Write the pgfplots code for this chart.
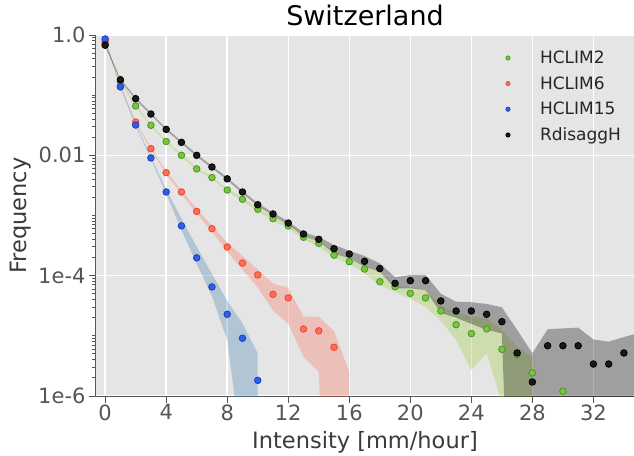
\documentclass[border=0pt]{standalone}
\usepackage{fontspec}
\setmainfont{DejaVu Sans}
\usepackage{pgfplots}
\pgfplotsset{compat=1.18}
\definecolor{bg}{HTML}{E5E5E5}
\definecolor{axgray}{HTML}{555555}
\definecolor{gfill}{RGB}{122,196,62}
\definecolor{gedge}{RGB}{70,150,40}
\definecolor{rfill}{RGB}{255,110,85}
\definecolor{redge}{RGB}{230,70,50}
\definecolor{bfill}{RGB}{45,95,230}
\definecolor{bedge}{RGB}{30,60,190}
\definecolor{gband}{RGB}{154,205,50}
\definecolor{rband}{RGB}{255,99,71}
\definecolor{bband}{RGB}{70,130,180}
\pgfplotsset{myleg/.style={legend image code/.code={\path[draw=none,fill=none] (0pt,-3pt) (41pt,3pt); \draw[##1] plot coordinates {(11pt,0pt)};}}}
\begin{document}
\begin{tikzpicture}
\begin{axis}[
  scale only axis, width=538pt, height=361pt,
  ymode=log, xmin=-0.6, xmax=34.66, ymin=1e-6, ymax=1,
  axis background/.style={fill=bg},
  axis lines*=left, axis line style={-, axgray, line width=1pt},
  grid=major, major grid style={white, line width=1.5pt},
  tick align=outside, major tick length=7pt, minor tick length=4pt,
  tick style={axgray, line width=1pt},
  xtick={0,4,8,12,16,20,24,28,32},
  xticklabels={0,4,8,12,16,20,24,28,32},
  ytick={1,1e-2,1e-4,1e-6},
  yticklabels={1.0,0.01,1e-4,1e-6},
  minor ytick={2e-6,3e-6,4e-6,5e-6,6e-6,7e-6,8e-6,9e-6,1e-5,2e-5,3e-5,4e-5,5e-5,6e-5,7e-5,8e-5,9e-5,
    2e-4,3e-4,4e-4,5e-4,6e-4,7e-4,8e-4,9e-4,1e-3,2e-3,3e-3,4e-3,5e-3,6e-3,7e-3,8e-3,9e-3,
    2e-2,3e-2,4e-2,5e-2,6e-2,7e-2,8e-2,9e-2,1e-1,2e-1,3e-1,4e-1,5e-1,6e-1,7e-1,8e-1,9e-1},
  ticklabel style={font=\fontsize{21}{24}\selectfont, text=axgray},
  xticklabel style={yshift=2pt},
  xlabel={Intensity [mm/hour]},
  ylabel={Frequency},
  label style={font=\fontsize{22.5}{26}\selectfont, text=axgray!70!black},
  xlabel style={at={(axis description cs:0.5,0)}, anchor=base, yshift=-52pt},
  ylabel style={at={(axis description cs:-0.1301,0.5)}, anchor=base, rotate=0},
  title={Switzerland},
  title style={font=\fontsize{27}{30}\selectfont, at={(axis description cs:0.5,1)}, anchor=base, yshift=4pt},
  legend style={draw=none, fill=none, at={(axis description cs:0.745,0.962)}, anchor=north west,
    font=\fontsize{17}{20}\selectfont, row sep=7.5pt, inner sep=0pt, text=black!85},
  legend cell align=left,
]
% bands
\addplot[draw=none, fill=bband, fill opacity=0.32, forget plot] coordinates {
(0,0.891)(1,0.143)(2,0.0331)(3,0.00944)(4,0.00269)(5,0.000891)(6,0.000302)(7,0.000107)(8,3.80e-5)(9,1.62e-5)(10,5.13e-6)
(10,1e-7)(9,1e-7)(8,8.51e-6)(7,4.57e-5)(6,0.000158)(5,0.000575)(4,0.00229)(3,0.00861)(2,0.0305)(1,0.132)(0,0.813)} -- cycle;
\addplot[draw=none, fill=rband, fill opacity=0.28, forget plot] coordinates {
(0,0.832)(1,0.146)(2,0.0372)(3,0.0135)(4,0.00543)(5,0.00263)(6,0.00129)(7,0.000676)(8,0.000355)(9,0.000214)(10,0.000126)(11,7.41e-5)(12,6.31e-5)(13,2.09e-5)(14,2.09e-5)(15,1.20e-5)(16,2.51e-6)
(16,1e-12)(15,1e-12)(14,2.51e-6)(13,4.47e-6)(12,1.58e-5)(11,2.63e-5)(10,6.31e-5)(9,0.000126)(8,0.000251)(7,0.000537)(6,0.00107)(5,0.00229)(4,0.00490)(3,0.0123)(2,0.0343)(1,0.135)(0,0.759)} -- cycle;
\addplot[draw=none, fill=gband, fill opacity=0.3, forget plot] coordinates {
(0,0.776)(1,0.178)(2,0.0692)(3,0.0331)(4,0.0178)(5,0.01047)(6,0.00624)(7,0.00447)(8,0.00282)(9,0.00200)(10,0.00135)(11,0.000955)(12,0.000724)(13,0.000468)(14,0.000372)(15,0.000251)(16,0.000195)(17,0.000148)(18,0.000117)(19,6.92e-5)(20,6.46e-5)(21,5.75e-5)(22,3.16e-5)(23,2.40e-5)(24,2.09e-5)(25,1.95e-5)(26,1.26e-5)(27,6.61e-6)(28,4.47e-6)
(28,1e-12)(27,1e-12)(26,7.94e-7)(25,5.13e-6)(24,2.69e-6)(23,8.51e-6)(22,1.78e-5)(21,3.02e-5)(20,4.17e-5)(19,5.37e-5)(18,7.00e-5)(17,0.000110)(16,0.000158)(15,0.000200)(14,0.000302)(13,0.000398)(12,0.000617)(11,0.000813)(10,0.00117)(9,0.00174)(8,0.00251)(7,0.00407)(6,0.00569)(5,0.00955)(4,0.0162)(3,0.0302)(2,0.0631)(1,0.162)(0,0.708)} -- cycle;
\addplot[draw=none, fill=black, fill opacity=0.3, forget plot] coordinates {
(0,0.708)(1,0.188)(2,0.0912)(3,0.0507)(4,0.0282)(5,0.0172)(6,0.01047)(7,0.00668)(8,0.00427)(9,0.00257)(10,0.00160)(11,0.00112)(12,0.000794)(13,0.000525)(14,0.000437)(15,0.000324)(16,0.000260)(17,0.000212)(18,0.000160)(19,9.40e-5)(20,0.000103)(21,0.000103)(22,5.01e-5)(23,3.70e-5)(24,3.63e-5)(25,3.39e-5)(26,2.98e-5)(27,1.26e-5)(28,5.13e-6)(29,1.29e-5)(30,1.33e-5)(31,1.37e-5)(32,8.71e-6)(33,8.00e-6)(34,9.55e-6)(35,1.12e-5)
(35,1e-12)(27,1e-12)(26,1.10e-5)(25,1.26e-5)(24,1.58e-5)(23,2.00e-5)(22,2.40e-5)(21,5.75e-5)(20,6.17e-5)(19,6.17e-5)(18,0.000117)(17,0.000141)(16,0.000195)(15,0.000234)(14,0.000372)(13,0.000457)(12,0.000700)(11,0.00100)(10,0.00143)(9,0.00234)(8,0.00389)(7,0.00610)(6,0.00955)(5,0.0158)(4,0.0260)(3,0.0468)(2,0.0841)(1,0.174)(0,0.646)} -- cycle;
% points
\addplot[only marks, mark=*, mark size=3.3pt, mark options={fill=gfill, draw=gedge, line width=0.8pt}, forget plot] coordinates {
(0,0.741)(1,0.170)(2,0.0661)(3,0.0316)(4,0.0170)(5,0.0100)(6,0.00596)(7,0.00427)(8,0.00265)(9,0.00186)(10,0.00127)(11,0.000885)(12,0.000670)(13,0.000435)(14,0.000345)(15,0.000219)(16,0.000171)(17,0.000129)(18,7.94e-5)(19,6.56e-5)(20,5.09e-5)(21,4.27e-5)(22,2.59e-5)(23,1.53e-5)(24,1.09e-5)(25,1.30e-5)(26,5.97e-6)(27,4.86e-6)(28,2.42e-6)(30,1.20e-6)};
\addplot[only marks, mark=*, mark size=3.3pt, mark options={fill=rfill, draw=redge, line width=0.8pt}, forget plot] coordinates {
(0,0.79)(1,0.141)(2,0.0358)(3,0.0129)(4,0.00515)(5,0.00246)(6,0.00117)(7,0.000604)(8,0.000300)(9,0.000162)(10,0.000103)(11,4.90e-5)(12,4.27e-5)(13,1.30e-5)(14,1.21e-5)(15,6.46e-6)};
\addplot[only marks, mark=*, mark size=3.3pt, mark options={fill=bfill, draw=bedge, line width=0.8pt}, forget plot] coordinates {
(0,0.859)(1,0.137)(2,0.0319)(3,0.00904)(4,0.00246)(5,0.000673)(6,0.000198)(7,6.49e-5)(8,2.28e-5)(9,9.12e-6)(10,1.82e-6)};
\addplot[only marks, mark=*, mark size=3.3pt, mark options={fill=black!90, draw=black, line width=0.8pt}, forget plot] coordinates {
(0,0.676)(1,0.1807)(2,0.0875)(3,0.0486)(4,0.0270)(5,0.01644)(6,0.0100)(7,0.00640)(8,0.00407)(9,0.00246)(10,0.00151)(11,0.00106)(12,0.000750)(13,0.000493)(14,0.000402)(15,0.000281)(16,0.000229)(17,0.000173)(18,0.000131)(19,7.46e-5)(20,8.26e-5)(21,8.26e-5)(22,3.80e-5)(23,2.59e-5)(24,2.59e-5)(25,2.28e-5)(26,1.72e-5)(27,5.19e-6)(28,1.71e-6)(29,6.85e-6)(30,6.85e-6)(31,6.85e-6)(32,3.40e-6)(33,3.40e-6)(34,5.19e-6)};
% legend
\addlegendimage{only marks, mark=*, mark size=2.2pt, mark options={fill=gfill, draw=gedge, line width=0.6pt}, myleg}
\addlegendentry{HCLIM2}
\addlegendimage{only marks, mark=*, mark size=2.2pt, mark options={fill=rfill, draw=redge, line width=0.6pt}, myleg}
\addlegendentry{HCLIM6}
\addlegendimage{only marks, mark=*, mark size=2.2pt, mark options={fill=bfill, draw=bedge, line width=0.6pt}, myleg}
\addlegendentry{HCLIM15}
\addlegendimage{only marks, mark=*, mark size=2.2pt, mark options={fill=black!90, draw=black, line width=0.6pt}, myleg}
\addlegendentry{RdisaggH}
\end{axis}
\pgfresetboundingbox
\path ([xshift=-96pt,yshift=-59pt]current axis.south west) rectangle ([yshift=35pt]current axis.north east);
\end{tikzpicture}
\end{document}
